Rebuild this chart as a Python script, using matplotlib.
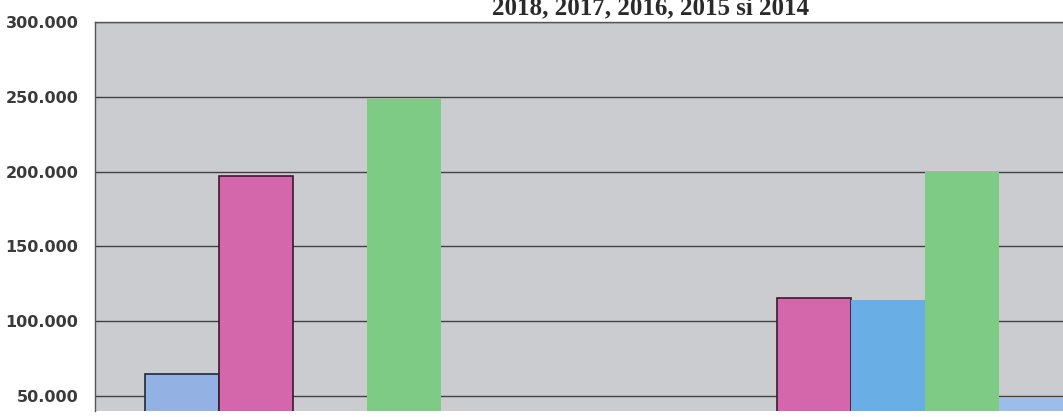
import numpy as np
import matplotlib.pyplot as plt

# date (doua categorii, cinci serii)
categorii = [0, 1]
serie_2018 = [65000, 0]
serie_2017 = [197000, 115500]
serie_2016 = [0, 114500]
serie_2015 = [248500, 199500]
serie_2014 = [0, 48500]
valori_y = [50000, 100000, 150000, 200000, 250000, 300000]
etichete_y = ['50.000', '100.000', '150.000', '200.000', '250.000', '300.000']
titlu = '2018, 2017, 2016, 2015 si 2014'

serii = [serie_2018, serie_2017, serie_2016, serie_2015, serie_2014]
culori = ['#93B1E2', '#D466AC', '#6AAEE6', '#7ECB85', '#9CBCEA']
margini = ['#1f2a3a', '#3a1a30', 'none', 'none', 'none']

fig = plt.figure(figsize=(10.63, 4.17), dpi=100)
ax = fig.add_axes([95 / 1063, 6 / 417, 1 - 95 / 1063, (411 - 22) / 417])
ax.set_facecolor('#CACCCF')

latime = 74 / 558
x = np.array(categorii, dtype=float)
for i, (val, c, m) in enumerate(zip(serii, culori, margini)):
    pos = x + (i - 2) * latime
    ax.bar(pos, val, width=latime, color=c, edgecolor=m,
           linewidth=1.2 if m != 'none' else 0, zorder=3)

ax.set_xlim(-0.421, 1.3136)
ax.set_ylim(40000, 300000)
ax.set_yticks(valori_y)
ax.set_yticklabels(etichete_y, fontsize=11.5, fontweight='bold',
                   color='#3a3a3a', family='DejaVu Sans')
ax.tick_params(axis='y', length=0, pad=12)
ax.set_xticks([])
ax.grid(axis='y', color='#404040', linewidth=1.0, zorder=1)

for s in ['left', 'top']:
    ax.spines[s].set_color('#555555')
    ax.spines[s].set_linewidth(1.0)
ax.spines['right'].set_visible(False)
ax.spines['bottom'].set_visible(False)

# titlul e taiat sus in original
fig.text(651 / 1063, (417 - 14) / 417, titlu, ha='center', va='baseline',
         fontsize=18, fontweight='bold', family='Liberation Serif',
         color='#2a2a2a')

fig.savefig('out.png', dpi=100, facecolor='white')
